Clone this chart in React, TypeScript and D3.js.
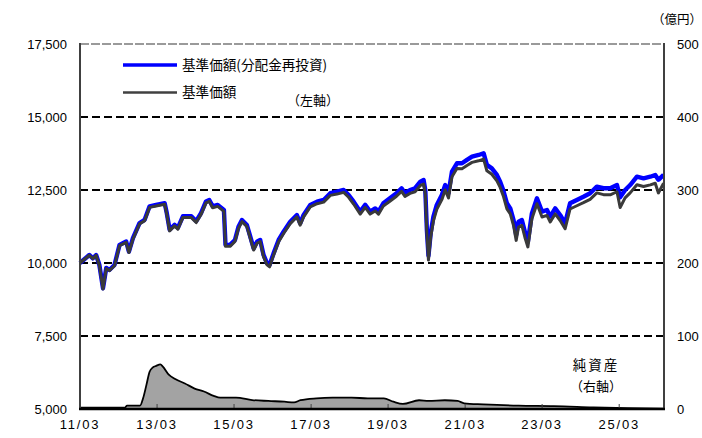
import React from "react";
import * as d3 from "d3";

// 基準価額（分配金再投資）, 基準価額 — dates and values (円)
const navDates = [
  "2011-03-01","2011-05-28","2011-07-01","2011-08-01","2011-09-01","2011-10-05","2011-11-05","2011-12-05",
  "2012-01-22","2012-03-10","2012-05-12","2012-06-07","2012-07-15","2012-09-16","2012-11-03","2012-12-20",
  "2013-02-20","2013-05-12","2013-06-01","2013-06-28","2013-08-14","2013-09-14","2013-11-01","2014-01-20",
  "2014-03-07","2014-04-22","2014-06-08","2014-07-09","2014-08-10","2014-09-27","2014-11-25","2014-12-10",
  "2015-01-22","2015-03-10","2015-04-12","2015-05-15","2015-07-01","2015-08-02","2015-09-03","2015-10-05",
  "2015-11-04","2015-12-06","2016-01-08","2016-02-01","2016-03-10","2016-04-27","2016-06-13","2016-08-15",
  "2016-10-17","2016-11-17","2016-12-20","2017-02-21","2017-04-26","2017-06-28","2017-08-30","2017-11-01",
  "2018-01-04","2018-02-20","2018-04-08","2018-06-10","2018-07-27","2018-09-12","2018-10-30","2018-11-30",
  "2019-01-15","2019-03-18","2019-05-20","2019-07-07","2019-08-08","2019-09-25","2019-11-12","2020-01-01",
  "2020-02-01","2020-02-17","2020-03-03","2020-03-18","2020-04-08","2020-05-04","2020-06-05","2020-07-23",
  "2020-08-24","2020-09-24","2020-10-27","2020-12-13","2021-01-30","2021-03-18","2021-05-05","2021-07-07",
  "2021-08-23","2021-09-23","2021-11-09","2021-12-27","2022-01-27","2022-02-25","2022-04-01","2022-05-03",
  "2022-06-03","2022-06-28","2022-07-20","2022-08-21","2022-09-22","2022-10-17","2022-11-24","2023-01-11",
  "2023-02-28","2023-04-16","2023-05-17","2023-07-03","2023-08-19","2023-10-05","2023-11-21","2024-01-24",
  "2024-03-27","2024-05-29","2024-08-01","2024-10-03","2024-12-06","2025-02-08","2025-03-10","2025-04-26",
  "2025-06-13","2025-08-16","2025-10-18","2025-12-21","2026-02-06","2026-03-08","2026-04-26"
];
const navReinvest = [
  10000,10275,10160,10275,9930,9135,9830,9760,
  9930,10620,10735,10390,10850,11370,11480,11940,
  11990,12050,11710,11140,11310,11200,11600,11600,
  11430,11710,12110,12160,11940,11990,11820,10620,
  10620,10790,11240,11470,11300,10900,10500,10730,
  10790,10275,9990,9930,10330,10790,11070,11415,
  11645,11360,11645,11990,12100,12160,12390,12440,
  12500,12330,12100,11760,11990,11760,11870,11760,
  12045,12215,12390,12560,12390,12500,12560,12785,
  12840,12500,11130,10250,11020,11590,11990,12330,
  12670,12390,13130,13415,13415,13530,13640,13700,
  13760,13360,13240,13015,12785,12500,12045,11870,
  11470,10960,11415,11470,11020,10730,11700,12215,
  11760,11815,11590,11870,11645,11360,12045,12160,
  12270,12390,12615,12560,12560,12670,12250,12500,
  12670,12955,12900,12955,13015,12850,13015
];
const navPrice = [
  10000,10265,10150,10260,9915,9110,9810,9740,
  9905,10595,10705,10360,10820,11340,11445,11905,
  11955,12010,11670,11100,11270,11160,11560,11555,
  11385,11665,12060,12110,11890,11940,11770,10570,
  10570,10740,11185,11415,11245,10845,10445,10675,
  10735,10220,9935,9870,10270,10730,11010,11350,
  11580,11295,11580,11920,12030,12085,12315,12360,
  12420,12250,12020,11675,11905,11675,11780,11670,
  11950,12115,12285,12450,12280,12385,12440,12655,
  12705,12365,11000,10100,10880,11440,11835,12170,
  12505,12225,12955,13235,13230,13340,13445,13500,
  13560,13160,13040,12815,12590,12305,11855,11680,
  11285,10775,11230,11285,10835,10550,11515,12030,
  11575,11630,11405,11680,11455,11170,11850,11960,
  12065,12180,12400,12340,12335,12440,11900,12230,
  12400,12680,12620,12675,12730,12400,12730
];

// 純資産（億円）
const aumDates = [
  "2011-03-01","2012-05-01","2012-05-20","2012-09-20","2012-10-20","2012-11-20","2012-12-20","2013-01-20",
  "2013-02-20","2013-04-01","2013-04-25","2013-06-20","2013-08-20","2013-11-20","2014-02-20","2014-05-20",
  "2014-08-20","2014-10-20","2015-03-20","2015-08-20","2016-01-20","2016-06-20","2016-09-20","2016-11-20",
  "2017-04-20","2017-09-20","2018-03-20","2018-08-20","2019-01-20","2019-04-20","2019-07-20","2019-12-20",
  "2020-03-20","2020-08-20","2020-12-20","2021-02-20","2021-08-20","2022-07-20","2023-06-20","2024-06-20",
  "2025-05-20","2026-04-26"
];
const aumValues = [
  2,2,4.6,4.6,15,33,51,57,
  59,61,58,47,41,35,28,24,
  18,15.5,15.5,12.3,11,10,9,12,
  14.6,15.5,15.5,14.6,14.6,10,7,12,
  11,12,11,7.8,6.4,4.6,4,2.3,
  1,0.5
];

const leftTicks = [5000, 7500, 10000, 12500, 15000, 17500];
const rightTicks = [0, 100, 200, 300, 400, 500];
const xTickDates = ["2011-03-01","2013-03-01","2015-03-01","2017-03-01","2019-03-01","2021-03-01","2023-03-01","2025-03-01"];

const W = 702, H = 438;
const M = { left: 80, right: 664, top: 44, bottom: 409 };
const numFont = "'Liberation Sans', Arial, sans-serif";
const jpFont = "'Noto Sans CJK JP', sans-serif";

export default function App() {
  const parse = d3.timeParse("%Y-%m-%d");
  const x = d3.scaleTime()
    .domain([parse("2011-03-01")!, parse("2026-04-30")!])
    .range([M.left, M.right]);
  const yL = d3.scaleLinear().domain([5000, 17500]).range([M.bottom, M.top]);
  const yR = d3.scaleLinear().domain([0, 500]).range([M.bottom, M.top]);

  const navPts = navDates.map((d, i) => ({ d: parse(d)!, a: navReinvest[i], b: navPrice[i] }));
  const aumPts = aumDates.map((d, i) => ({ d: parse(d)!, v: aumValues[i] }));

  const lineA = d3.line<any>().x(p => x(p.d)).y(p => yL(p.a)).curve(d3.curveLinear);
  const lineB = d3.line<any>().x(p => x(p.d)).y(p => yL(p.b)).curve(d3.curveLinear);
  const area = d3.area<any>().x(p => x(p.d)).y0(yR(0)).y1(p => yR(p.v)).curve(d3.curveMonotoneX);
  const areaTop = d3.line<any>().x(p => x(p.d)).y(p => yR(p.v)).curve(d3.curveMonotoneX);
  const fmt = d3.format(",");
  const xfmt = d3.timeFormat("%y/%m");

  return (
    <div style={{ position: "absolute", left: 0, top: 0 }}>
      <svg width={W} height={H} style={{ display: "block", background: "#fff" }}>
        {/* grid lines */}
        {leftTicks.filter(t => t !== 5000 && t !== 17500).map(t => (
          <line key={t} x1={M.left} x2={M.right} y1={yL(t)} y2={yL(t)}
            stroke="#000" strokeWidth={2} strokeDasharray="8,4" />
        ))}
        <line x1={M.left} x2={M.right} y1={yL(17500)} y2={yL(17500)}
          stroke="#9a9a9a" strokeWidth={2} strokeDasharray="9,2" />

        {/* net assets area */}
        <path d={area(aumPts) || ""} fill="#a3a3a3" />
        <path d={areaTop(aumPts) || ""} fill="none" stroke="#000" strokeWidth={1.8} />

        {/* x ticks */}
        {xTickDates.slice(1).map(t => (
          <line key={t} x1={x(parse(t)!)} x2={x(parse(t)!)} y1={M.bottom} y2={M.bottom - 5}
            stroke="#444" strokeWidth={1} />
        ))}

        {/* NAV lines */}
        <path d={lineA(navPts) || ""} fill="none" stroke="#0000ff" strokeWidth={4.4} strokeLinejoin="round" />
        <path d={lineB(navPts) || ""} fill="none" stroke="#3a3a3a" strokeWidth={3} strokeLinejoin="round" />

        {/* axes */}
        <line x1={M.left} x2={M.left} y1={M.top - 1} y2={M.bottom} stroke="#404040" strokeWidth={2} />
        <line x1={M.right} x2={M.right} y1={M.top - 1} y2={M.bottom} stroke="#404040" strokeWidth={2} />
        <line x1={M.left - 1} x2={M.right + 1} y1={M.bottom} y2={M.bottom} stroke="#000" strokeWidth={2.5} />

        {/* left tick labels */}
        {leftTicks.map(t => (
          <text key={t} x={67} y={yL(t)} dy="0.36em" textAnchor="end"
            fontFamily={numFont} fontSize={13} fill="#000">{fmt(t)}</text>
        ))}
        {/* right tick labels */}
        {rightTicks.map(t => (
          <text key={t} x={677} y={yR(t)} dy="0.36em" textAnchor="start"
            fontFamily={numFont} fontSize={13} fill="#000">{t}</text>
        ))}
        {/* x tick labels */}
        {xTickDates.map(t => (
          <text key={t} x={x(parse(t)!)} y={429} textAnchor="middle" letterSpacing={1.8}
            fontFamily={numFont} fontSize={13} fill="#000">{xfmt(parse(t)!)}</text>
        ))}

        {/* unit */}
        <text x={677} y={24} textAnchor="middle" fontFamily={jpFont} fontSize={12.5} fill="#000">（億円）</text>

        {/* legend */}
        <line x1={123} x2={177} y1={65} y2={65} stroke="#0000ff" strokeWidth={3.5} />
        <text x={182} y={65} dy="0.36em" fontFamily={jpFont} fontSize={13.6} fill="#000">基準価額(分配金再投資)</text>
        <line x1={123} x2={177} y1={92.5} y2={92.5} stroke="#404040" strokeWidth={2.5} />
        <text x={182} y={92.5} dy="0.36em" fontFamily={jpFont} fontSize={13.6} fill="#000">基準価額</text>
        <text x={287} y={100} dy="0.36em" fontFamily={jpFont} fontSize={13} fill="#000">（左軸）</text>

        <text x={596} y={365} dy="0.36em" textAnchor="middle" letterSpacing={2}
          fontFamily={jpFont} fontSize={13.5} fill="#000">純資産</text>
        <text x={596} y={386} dy="0.36em" textAnchor="middle"
          fontFamily={jpFont} fontSize={13} fill="#000">（右軸）</text>
      </svg>
    </div>
  );
}
